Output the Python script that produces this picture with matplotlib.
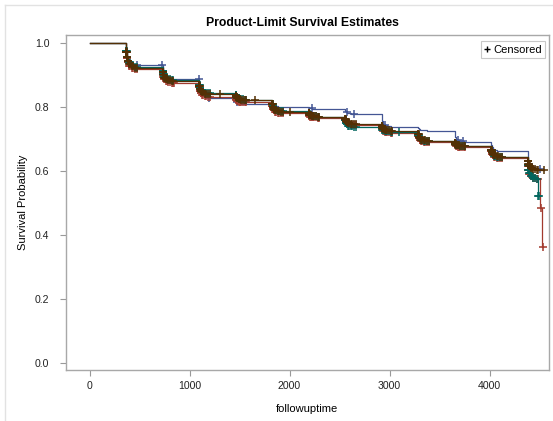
import numpy as np
import matplotlib
matplotlib.use("Agg")
import matplotlib.pyplot as plt
from matplotlib.lines import Line2D

plt.rcParams['font.family'] = ['Liberation Sans', 'DejaVu Sans']

# anniversaries where most deaths cluster, and days after each one
years = [365, 730, 1095, 1460, 1825, 2190, 2555, 2920, 3285, 3650, 4015, 4380]
offsets = [0, 8, 18, 32, 55, 90]
# days after each anniversary with censored subjects
cens_offsets = [0, 3, 5, 8, 12, 18, 24, 32, 42, 55, 70, 90, 108]

# survival estimate after each step, one row per anniversary
blue_s = [
    [0.976, 0.960, 0.949, 0.941, 0.934, 0.931],
    [0.916, 0.906, 0.899, 0.894, 0.890, 0.888],
    [0.867, 0.853, 0.843, 0.836, 0.830, 0.827],
    [0.821, 0.817, 0.814, 0.812, 0.810, 0.809],
    [0.806, 0.804, 0.803, 0.802, 0.801, 0.801],
    [0.799, 0.797, 0.796, 0.795, 0.794, 0.794],
    [0.788, 0.785, 0.782, 0.780, 0.779, 0.778],
    [0.764, 0.755, 0.748, 0.744, 0.740, 0.738],
    [0.734, 0.731, 0.729, 0.728, 0.727, 0.726],
    [0.714, 0.706, 0.701, 0.697, 0.694, 0.692],
    [0.681, 0.674, 0.669, 0.665, 0.662, 0.661],
    [0.641, 0.629, 0.620, 0.613, 0.608, 0.605],
]
red_s = [
    [0.971, 0.952, 0.939, 0.929, 0.922, 0.918],
    [0.903, 0.894, 0.887, 0.882, 0.878, 0.876],
    [0.861, 0.850, 0.843, 0.838, 0.834, 0.832],
    [0.826, 0.822, 0.819, 0.817, 0.816, 0.815],
    [0.803, 0.795, 0.789, 0.785, 0.782, 0.780],
    [0.775, 0.772, 0.770, 0.769, 0.768, 0.767],
    [0.759, 0.753, 0.749, 0.746, 0.744, 0.743],
    [0.735, 0.730, 0.726, 0.723, 0.721, 0.720],
    [0.710, 0.703, 0.698, 0.694, 0.692, 0.690],
    [0.684, 0.681, 0.678, 0.676, 0.675, 0.674],
    [0.662, 0.654, 0.649, 0.645, 0.642, 0.640],
    [0.617, 0.602, 0.592, 0.584, 0.578, 0.575],
]
teal_s = [
    [0.974, 0.957, 0.945, 0.936, 0.930, 0.926],
    [0.911, 0.902, 0.895, 0.890, 0.886, 0.884],
    [0.870, 0.860, 0.854, 0.849, 0.845, 0.843],
    [0.836, 0.831, 0.828, 0.826, 0.824, 0.823],
    [0.810, 0.802, 0.796, 0.791, 0.788, 0.786],
    [0.780, 0.777, 0.774, 0.772, 0.771, 0.770],
    [0.759, 0.751, 0.746, 0.742, 0.740, 0.738],
    [0.733, 0.729, 0.727, 0.725, 0.724, 0.723],
    [0.713, 0.706, 0.702, 0.698, 0.695, 0.694],
    [0.688, 0.685, 0.682, 0.680, 0.679, 0.678],
    [0.666, 0.658, 0.652, 0.648, 0.645, 0.643],
    [0.619, 0.604, 0.593, 0.585, 0.578, 0.575],
]
brown_s = [
    [0.973, 0.955, 0.943, 0.934, 0.927, 0.923],
    [0.908, 0.899, 0.892, 0.887, 0.883, 0.881],
    [0.867, 0.857, 0.851, 0.846, 0.842, 0.840],
    [0.834, 0.830, 0.827, 0.825, 0.823, 0.822],
    [0.809, 0.801, 0.795, 0.790, 0.787, 0.785],
    [0.780, 0.776, 0.774, 0.772, 0.771, 0.770],
    [0.762, 0.757, 0.753, 0.750, 0.748, 0.747],
    [0.740, 0.735, 0.731, 0.729, 0.727, 0.726],
    [0.715, 0.707, 0.702, 0.698, 0.696, 0.694],
    [0.688, 0.685, 0.682, 0.680, 0.679, 0.678],
    [0.666, 0.659, 0.654, 0.650, 0.647, 0.645],
    [0.630, 0.621, 0.614, 0.609, 0.605, 0.603],
]

# late events after the last anniversary: (time, survival)
blue_tail = []
red_tail = [(4505, 0.484), (4520, 0.362)]
teal_tail = [(4485, 0.522)]
brown_tail = []

# last follow-up time per group
blue_end, red_end, teal_end, brown_end = 4500, 4530, 4492, 4540

# isolated censored observations
blue_cens = [365, 470, 725, 1094, 1190, 1470, 2220, 2570, 2645, 2955, 3685, 3735, 4425, 4500]
red_cens = [845, 4510, 4530]
teal_cens = [3095, 4492]
brown_cens = [1305, 1655, 2005, 4540]

# whether the group has censoring bunched round each anniversary
blob_marks = [False, True, True, True]

colors = ['#445694', '#A23A2E', '#01665E', '#543005']


def km_curve(rows, tail, end):
    t = [0.0]
    s = [1.0]
    for yr, row in zip(years, rows):
        for off, v in zip(offsets, row):
            t.append(yr + off)
            s.append(v)
    for tt, v in tail:
        t.append(tt)
        s.append(v)
    t.append(end)
    s.append(s[-1])
    return np.array(t, float), np.array(s, float)


def s_at(t, s, when):
    idx = np.searchsorted(t, when, side='right') - 1
    return s[idx]


fig = plt.figure(figsize=(5.53, 4.21), dpi=100)
ax = fig.add_axes([66 / 553, 1 - 370 / 421, (549 - 66) / 553, (370 - 35.3) / 421])

groups = [
    (blue_s, blue_tail, blue_end, blue_cens),
    (red_s, red_tail, red_end, red_cens),
    (teal_s, teal_tail, teal_end, teal_cens),
    (brown_s, brown_tail, brown_end, brown_cens),
]

blob_cens = np.array([yr + off for yr in years for off in cens_offsets], float)

for (rows, tail, end, cens), c, bm in zip(groups, colors, blob_marks):
    t, s = km_curve(rows, tail, end)
    ax.step(t, s, where='post', color=c, lw=0.9)
    ct = np.array(cens, float)
    if bm:
        ct = np.concatenate([blob_cens[blob_cens < end], ct])
    ax.plot(ct, s_at(t, s, ct), ls='none', marker='+', ms=5.5, mew=1.1, color=c)

ax.set_xlim(-235, 4595)
ax.set_ylim(-0.022, 1.024)
ax.set_xticks([0, 1000, 2000, 3000, 4000])
ax.set_yticks([0.0, 0.2, 0.4, 0.6, 0.8, 1.0])
ax.set_yticklabels(['0.0', '0.2', '0.4', '0.6', '0.8', '1.0'])
ax.tick_params(axis='both', length=4, width=0.8, color='#999999', labelsize=7.6, labelcolor='#222222')
ax.tick_params(axis='y', pad=8)
ax.tick_params(axis='x', pad=4)
for sp in ax.spines.values():
    sp.set_color('#a8a8a8')
    sp.set_linewidth(1.0)

leg = ax.legend(handles=[Line2D([], [], ls='none', marker='+', ms=5, mew=1.0, color='black')],
                labels=['Censored'], loc='upper right', bbox_to_anchor=(1 - 4 / 483, 1 - 6 / 335),
                fontsize=8, handlelength=0.5, handletextpad=0.3, borderpad=0.3,
                fancybox=False, framealpha=1, edgecolor='#c8c8c8', borderaxespad=0)
leg.get_frame().set_linewidth(0.8)

fig.text(302 / 553, 1 - 22.5 / 421, 'Product-Limit Survival Estimates', ha='center', va='center',
         fontsize=8.8, fontweight='bold')
fig.text(23 / 553, 1 - 202 / 421, 'Survival Probability', rotation=90, ha='center', va='center', fontsize=8)
fig.text(307 / 553, 1 - 409 / 421, 'followuptime', ha='center', va='center', fontsize=8)

# faint outer frame of the graph output
fig.add_artist(Line2D([5 / 553, 5 / 553], [0, 1 - 5 / 421], transform=fig.transFigure, color='#e2e2e2', lw=1))
fig.add_artist(Line2D([5 / 553, 1], [1 - 5 / 421, 1 - 5 / 421], transform=fig.transFigure, color='#e2e2e2', lw=1))

fig.savefig('out.png', dpi=100)
